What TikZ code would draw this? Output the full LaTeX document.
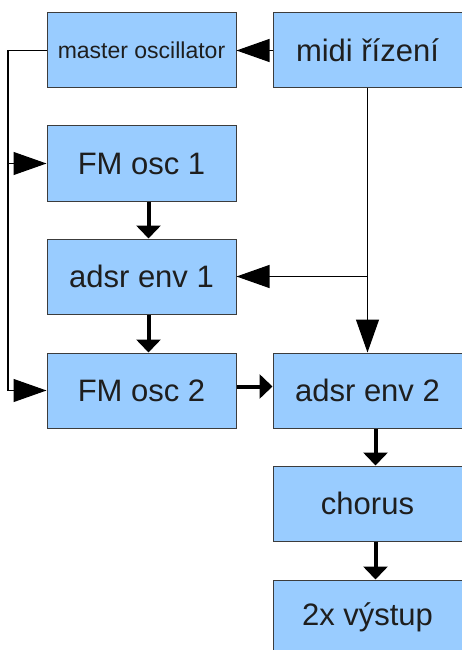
\documentclass[tikz,border=0pt]{standalone}
\usepackage{fontspec}
\setmainfont{Liberation Sans}
\definecolor{blokmodra}{RGB}{153, 204, 255}
\definecolor{blokokraj}{RGB}{60, 60, 60}
\definecolor{textseda}{RGB}{30, 30, 30}
\usetikzlibrary{arrows.meta, positioning, calc}

\begin{document}
\begin{tikzpicture}[
  x=1pt, y=-1pt,
  blok/.style={draw=blokokraj, fill=blokmodra, line width=1pt, minimum width=189pt, minimum height=75pt, inner sep=0pt, text=textseda, font=\fontsize{31}{31}\selectfont},
  tenka/.style={draw=black, line width=1.1pt, -{Triangle[length=33pt, width=23pt]}},
  tlusta/.style={draw=black, line width=4pt, -{Triangle[length=13pt, width=24pt]}}
]
  \useasboundingbox (0,0) rectangle (461,650);
  \node[blok, font=\fontsize{23}{23}\selectfont] (master) at (141.5, 50.5) {master oscillator};
  \node[blok] (midi) at (367.5, 50.5) {midi řízení};
  \node[blok] (fm1) at (141.5, 163.5) {FM osc 1};
  \node[blok] (adsr1) at (141.5, 276.5) {adsr env 1};
  \node[blok] (fm2) at (141.5, 390.5) {FM osc 2};
  \node[blok] (adsr2) at (367.5, 390.5) {adsr env 2};
  \node[blok] (chorus) at (367.5, 503.5) {chorus};
  \node[blok] (vystup) at (367.5, 617.5) {2x výstup};
  \coordinate (vlevo) at (8, 50.5);
  \coordinate (odbocka) at (midi.south |- adsr1.east);
  \draw[tenka] (midi.west) -- (master.east);
  \draw[tenka] (master.west) -- (vlevo) |- (fm2.west);
  \draw[tenka] (vlevo) |- (fm1.west);
  \draw[tenka] (midi.south) -- (adsr2.north);
  \draw[tenka] (odbocka) -- (adsr1.east);
  \draw[tlusta] ([xshift=7pt]fm1.south) -- ([xshift=7pt]adsr1.north);
  \draw[tlusta] ([xshift=7pt]adsr1.south) -- ([xshift=7pt]fm2.north);
  \draw[tlusta] ([yshift=4pt]fm2.east) -- ([yshift=4pt]adsr2.west);
  \draw[tlusta] ([xshift=8pt]adsr2.south) -- ([xshift=8pt]chorus.north);
  \draw[tlusta] ([xshift=8pt]chorus.south) -- ([xshift=8pt]vystup.north);
\end{tikzpicture}
\end{document}
